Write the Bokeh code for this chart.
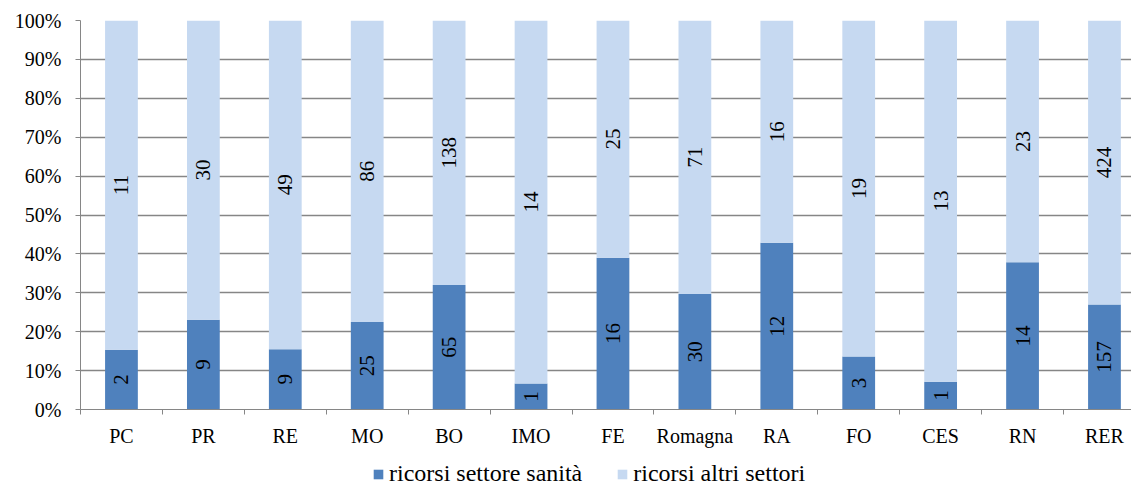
import math
from bokeh.plotting import figure
from bokeh.layouts import column
from bokeh.models import (ColumnDataSource, Range1d, FixedTicker, NumeralTickFormatter,
                          Legend, LegendItem)
from bokeh.core.properties import value
from bokeh.embed import file_html
from bokeh.resources import INLINE

categories = ["PC", "PR", "RE", "MO", "BO", "IMO", "FE", "Romagna", "RA", "FO", "CES", "RN", "RER"]
sanita = [2, 9, 9, 25, 65, 1, 16, 30, 12, 3, 1, 14, 157]
altri = [11, 30, 49, 86, 138, 14, 25, 71, 16, 19, 13, 23, 424]
series_names = ["ricorsi settore sanità", "ricorsi altri settori"]
y_ticks = [0, 0.1, 0.2, 0.3, 0.4, 0.5, 0.6, 0.7, 0.8, 0.9, 1.0]

DARK = "#4F81BD"
LIGHT = "#C6D9F1"
GRID = "#868686"
FONT = "Liberation Serif"

x = list(range(len(categories)))
tot = [a + b for a, b in zip(sanita, altri)]
p1 = [a / t for a, t in zip(sanita, tot)]
src = ColumnDataSource(dict(
    x=x,
    zero=[0.0] * len(x),
    p1=p1,
    one=[1.0] * len(x),
    mid1=[v / 2 for v in p1],
    mid2=[v + (1 - v) / 2 for v in p1],
    lab1=[str(v) for v in sanita],
    lab2=[str(v) for v in altri],
))

p = figure(frame_width=1051, frame_height=389, output_backend="svg", toolbar_location=None,
           x_range=Range1d(-0.5, 12.33), y_range=Range1d(0, 1),
           min_border_left=80, min_border_right=0, min_border_top=20, min_border_bottom=48)
p.outline_line_color = None
p.background_fill_color = "white"
p.border_fill_color = "white"

p.vbar(x="x", bottom="zero", top="p1", width=0.4, source=src,
       fill_color=DARK, line_color=None)
p.vbar(x="x", bottom="p1", top="one", width=0.4, source=src,
       fill_color=LIGHT, line_color=None)

p.text(x="x", y="mid1", text="lab1", source=src, angle=math.pi / 2,
       text_align="center", text_baseline="middle",
       text_font=value(FONT), text_font_size="21px", text_color="black")
p.text(x="x", y="mid2", text="lab2", source=src, angle=math.pi / 2,
       text_align="center", text_baseline="middle",
       text_font=value(FONT), text_font_size="21px", text_color="black")

# Y axis
p.yaxis.ticker = FixedTicker(ticks=y_ticks)
p.yaxis.formatter = NumeralTickFormatter(format="0%")
p.yaxis.axis_line_color = GRID
p.yaxis.major_tick_line_color = GRID
p.yaxis.major_tick_out = 5
p.yaxis.major_tick_in = 0
p.yaxis.minor_tick_line_color = None
p.yaxis.major_label_standoff = 14
p.yaxis.major_label_text_font = FONT
p.yaxis.major_label_text_font_size = "20px"
p.yaxis.major_label_text_color = "black"

# X axis
p.xaxis.ticker = FixedTicker(ticks=x, minor_ticks=[i - 0.5 for i in range(len(categories) + 1)])
p.xaxis.major_label_overrides = {i: c for i, c in enumerate(categories)}
p.xaxis.axis_line_color = GRID
p.xaxis.major_tick_line_color = None
p.xaxis.major_tick_out = 0
p.xaxis.major_tick_in = 0
p.xaxis.minor_tick_line_color = GRID
p.xaxis.minor_tick_out = 5
p.xaxis.minor_tick_in = 0
p.xaxis.major_label_standoff = 10
p.xaxis.major_label_text_font = FONT
p.xaxis.major_label_text_font_size = "20px"
p.xaxis.major_label_text_color = "black"

p.xgrid.grid_line_color = None
p.ygrid.ticker = FixedTicker(ticks=y_ticks)
p.ygrid.grid_line_color = GRID
p.ygrid.grid_line_width = 1.5

# Legend strip (own small figure; its bar renderers are hidden, only the legend shows)
lg = figure(width=1131, height=30, output_backend="svg", toolbar_location=None,
            x_range=Range1d(-100, -99), y_range=Range1d(-10, -9),
            x_axis_type=None, y_axis_type=None,
            min_border_left=0, min_border_right=0, min_border_top=0, min_border_bottom=0)
lg.outline_line_color = None
lg.background_fill_color = "white"
lg.border_fill_color = "white"
lr1 = lg.vbar(x="x", bottom="zero", top="p1", width=0.4, source=src,
              fill_color=DARK, line_color=None)
lr2 = lg.vbar(x="x", bottom="p1", top="one", width=0.4, source=src,
              fill_color=LIGHT, line_color=None)
lr1.visible = False
lr2.visible = False
legend = Legend(items=[LegendItem(label=series_names[0], renderers=[lr1]),
                       LegendItem(label=series_names[1], renderers=[lr2])],
                orientation="horizontal", location=(292, 0),
                glyph_width=12, glyph_height=12, label_standoff=5, spacing=34,
                label_text_font=FONT, label_text_font_size="24px",
                label_text_color="black",
                inactive_fill_alpha=0,
                border_line_color=None, background_fill_alpha=0,
                padding=0, margin=0)
lg.add_layout(legend, "center")

layout = column(p, lg, spacing=0)
open("out.html", "w").write(file_html(layout, INLINE))
